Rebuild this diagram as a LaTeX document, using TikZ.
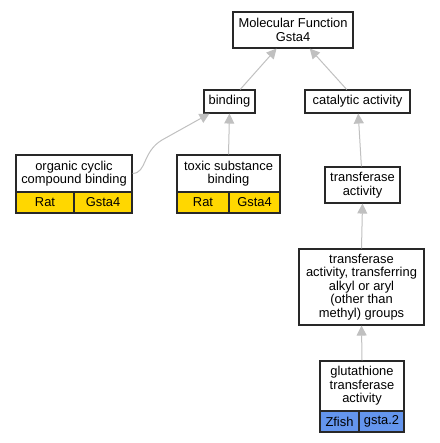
\documentclass[tikz,border=0pt]{standalone}
\usepackage{fontspec}
\setmainfont{Liberation Sans}
\usetikzlibrary{arrows.meta}
\definecolor{edgegray}{RGB}{192,192,192}
\definecolor{boxline}{RGB}{40,40,40}
\definecolor{ratgold}{RGB}{255,215,0}
\definecolor{fishblue}{RGB}{100,149,237}
\tikzset{
  box/.style={draw=boxline, line width=1.1pt, fill=white, rectangle, inner sep=0pt, align=center,
    font=\fontsize{12.9}{13.5}\selectfont},
  cell/.style={box},
  edge/.style={draw=edgegray, line width=1pt, -{Triangle[length=10pt,width=10pt,fill=edgegray]}},
}
\begin{document}
\begin{tikzpicture}[x=1pt,y=-1pt]
\useasboundingbox (0,0) rectangle (439,443);
\node[box, minimum width=120pt, minimum height=36pt] (mf) at (293,30) {Molecular Function\\Gsta4};
\node[box, minimum width=51pt, minimum height=23pt] (bind) at (229.5,101.5) {binding};
\node[box, minimum width=105pt, minimum height=23pt] (cat) at (357.5,101.5) {catalytic activity};
\node[box, minimum width=116pt, minimum height=37pt] (ocb) at (74,173.5) {organic cyclic\\compound binding};
\node[cell, fill=ratgold, minimum width=58pt, minimum height=21pt] (ocbrat) at (45,202.5) {Rat};
\node[cell, fill=ratgold, minimum width=58pt, minimum height=21pt] (ocbgene) at (103,202.5) {Gsta4};
\node[box, minimum width=103pt, minimum height=37pt] (tsb) at (228.5,173.5) {toxic substance\\binding};
\node[cell, fill=ratgold, minimum width=52pt, minimum height=21pt] (tsbrat) at (203,202.5) {Rat};
\node[cell, fill=ratgold, minimum width=51pt, minimum height=21pt] (tsbgene) at (254.5,202.5) {Gsta4};
\node[box, minimum width=75pt, minimum height=36pt] (tra) at (362.5,185) {transferase\\activity};
\node[box, minimum width=125pt, minimum height=76pt] (trx) at (361.5,287) {transferase\\activity, transferring\\alkyl or aryl\\(other than\\methyl) groups};
\node[box, minimum width=84pt, minimum height=50pt] (gst) at (362,386) {glutathione\\transferase\\activity};
\node[cell, fill=fishblue, minimum width=39pt, minimum height=21pt] (gstfish) at (339.5,421.5) {Zfish};
\node[cell, fill=fishblue, minimum width=45pt, minimum height=21pt] (gstgene) at (381.5,421.5) {gsta.2};
\draw[edge] (bind) -- (mf);
\draw[edge] (cat) -- (mf);
\draw[edge] (tsb.north) -- (bind.south);
\draw[edge] (ocb.east) .. controls (147,173) and (142,152) .. (162,140) -- ([xshift=-20pt]bind.south);
\draw[edge] (tra) -- (cat);
\draw[edge] (trx.north) -- (tra.south);
\draw[edge] (gst.north) -- (trx.south);
\end{tikzpicture}
\end{document}
